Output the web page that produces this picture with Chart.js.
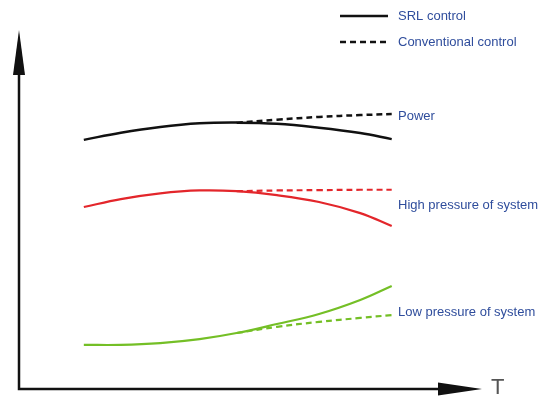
<!DOCTYPE html>
<html>
<head>
<meta charset="utf-8">
<script src="https://cdn.jsdelivr.net/npm/chart.js@4"></script>
<style>
  html, body { margin: 0; padding: 0; background: #fff; }
  #wrap { width: 559px; height: 400px; }
</style>
</head>
<body>
<div id="wrap"><canvas id="chart" width="559" height="400"></canvas></div>
<script>
// ── data (T on 0..100, value on 0..100) ──
const tSolid = [14, 22, 30.5, 39, 47, 55.7, 64.8, 73.7, 80.5];
const tDashed = [47, 55.7, 64.8, 73.7, 80.5];

const powerSrl = [69.4, 71.4, 73.0, 74.0, 74.2, 73.9, 72.8, 71.3, 69.6];
const powerConv = [74.2, 75.0, 75.8, 76.3, 76.6];

const highSrl = [50.7, 52.9, 54.5, 55.3, 55.1, 54.0, 52.1, 49.0, 45.4];
const highConv = [55.1, 55.3, 55.4, 55.5, 55.5];

const lowSrl = [12.3, 12.3, 12.8, 13.9, 15.6, 18.1, 20.9, 24.8, 28.7];
const lowConv = [15.6, 17.3, 18.7, 19.8, 20.6];

const seriesLabels = ['Power', 'High pressure of system', 'Low pressure of system'];
const legendLabels = ['SRL control', 'Conventional control'];
const axisLabel = 'T';

const BLUE = '#2f4d9c';
const BLACK = '#111111';
const RED = '#e3262b';
const GREEN = '#74bf26';

const pts = (xs, ys) => xs.map((x, i) => ({ x, y: ys[i] }));

function line(label, xs, ys, color, dashed, width) {
  return {
    label,
    data: pts(xs, ys),
    borderColor: color,
    borderWidth: width,
    borderDash: dashed ? [6, 4] : [],
    pointRadius: 0,
    fill: false,
    tension: 0.4
  };
}

// ── axes with arrow heads ──
const arrowAxes = {
  id: 'arrowAxes',
  afterDraw(chart) {
    const { ctx, chartArea: a } = chart;
    ctx.save();
    ctx.strokeStyle = BLACK;
    ctx.fillStyle = BLACK;
    ctx.lineWidth = 2.5;
    ctx.beginPath();
    ctx.moveTo(a.left, a.top + 40);
    ctx.lineTo(a.left, a.bottom);
    ctx.lineTo(a.right - 40, a.bottom);
    ctx.stroke();
    // y arrow
    ctx.beginPath();
    ctx.moveTo(a.left, a.top);
    ctx.lineTo(a.left - 6, a.top + 45);
    ctx.lineTo(a.left + 6, a.top + 45);
    ctx.closePath();
    ctx.fill();
    // x arrow
    ctx.beginPath();
    ctx.moveTo(a.right, a.bottom);
    ctx.lineTo(a.right - 44, a.bottom - 6.5);
    ctx.lineTo(a.right - 44, a.bottom + 6.5);
    ctx.closePath();
    ctx.fill();
    // T
    ctx.fillStyle = '#555';
    ctx.font = '22px "Liberation Sans", Arial, sans-serif';
    ctx.textBaseline = 'middle';
    ctx.fillText(axisLabel, a.right + 9, a.bottom - 1);
    ctx.restore();
  }
};

// ── legend + curve labels ──
const annotations = {
  id: 'annotations',
  afterDraw(chart) {
    const { ctx } = chart;
    ctx.save();
    ctx.strokeStyle = BLACK;
    ctx.lineWidth = 2.5;
    ctx.beginPath();
    ctx.moveTo(340, 16);
    ctx.lineTo(388, 16);
    ctx.stroke();
    ctx.setLineDash([6, 4]);
    ctx.beginPath();
    ctx.moveTo(340, 42);
    ctx.lineTo(388, 42);
    ctx.stroke();
    ctx.setLineDash([]);

    ctx.fillStyle = BLUE;
    ctx.font = '13px "Liberation Sans", Arial, sans-serif';
    ctx.textBaseline = 'middle';
    ctx.fillText(legendLabels[0], 398, 16);
    ctx.fillText(legendLabels[1], 398, 42);
    ctx.fillText(seriesLabels[0], 398, 116);
    ctx.fillText(seriesLabels[1], 398, 205);
    ctx.fillText(seriesLabels[2], 398, 312);
    ctx.restore();
  }
};

new Chart(document.getElementById('chart').getContext('2d'), {
  type: 'line',
  data: {
    datasets: [
      line('Power conventional', tDashed, powerConv, BLACK, true, 2.5),
      line('Power SRL', tSolid, powerSrl, BLACK, false, 2.5),
      line('High pressure conventional', tDashed, highConv, RED, true, 2.2),
      line('High pressure SRL', tSolid, highSrl, RED, false, 2.2),
      line('Low pressure conventional', tDashed, lowConv, GREEN, true, 2.2),
      line('Low pressure SRL', tSolid, lowSrl, GREEN, false, 2.2)
    ]
  },
  options: {
    responsive: false,
    animation: false,
    layout: { padding: { left: 19, top: 30, right: 77, bottom: 11 } },
    plugins: {
      legend: { display: false },
      tooltip: { enabled: false }
    },
    scales: {
      x: { type: 'linear', min: 0, max: 100, display: false },
      y: { min: 0, max: 100, display: false }
    }
  },
  plugins: [arrowAxes, annotations]
});
</script>
</body>
</html>
